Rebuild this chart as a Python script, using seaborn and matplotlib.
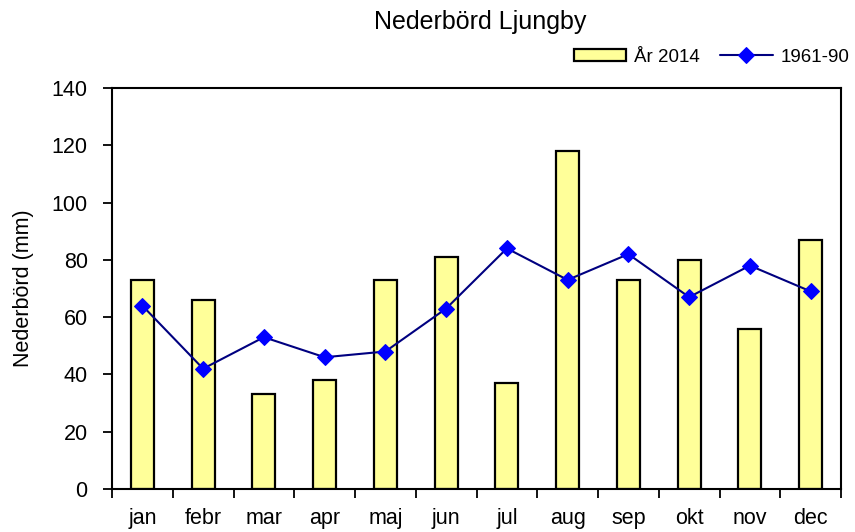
import matplotlib
matplotlib.use("Agg")
import matplotlib.pyplot as plt
import seaborn as sns
import pandas as pd
import numpy as np

months = ["jan", "febr", "mar", "apr", "maj", "jun", "jul", "aug", "sep", "okt", "nov", "dec"]
rain_2014 = [73, 66, 33, 38, 73, 81, 37, 118, 73, 80, 56, 87]
normal_1961_90 = [64, 42, 53, 46, 48, 63, 84, 73, 82, 67, 78, 69]
y_ticks = [0, 20, 40, 60, 80, 100, 120, 140]

sns.set_style("white")
plt.rcParams["font.family"] = ["Liberation Sans", "DejaVu Sans"]
for k in ["text.color", "axes.labelcolor", "xtick.color", "ytick.color"]:
    plt.rcParams[k] = "black"

df = pd.DataFrame({"month": months, "y2014": rain_2014, "norm": normal_1961_90})

fig = plt.figure(figsize=(8.55, 5.32), dpi=100)
ax = fig.add_axes([112/855, 1-489/532, (841-112)/855, (489-88)/532])

sns.barplot(data=df, x="month", y="y2014", ax=ax, color="#FFFF99",
            edgecolor="black", linewidth=1.6, width=0.38, label="År 2014",
            saturation=1)
pos = np.arange(len(months))
sns.lineplot(x=pos, y=normal_1961_90, ax=ax, color="#000080", linewidth=1.5,
             marker="D", markersize=8.5, markerfacecolor="#0000FF",
             markeredgecolor="#0000FF", label="1961-90", legend=False)

ax.set_xlim(-0.5, len(months) - 0.5)
ax.set_ylim(0, 140)
ax.set_yticks(y_ticks)
ax.set_xticks(pos)
ax.set_xticklabels(months)
ax.set_xticks(np.arange(-0.5, len(months), 1.0), minor=True)
ax.tick_params(axis="x", which="major", length=0, pad=14, labelsize=15.5)
ax.tick_params(axis="x", which="minor", length=6.5, width=1.3, direction="out", bottom=True)
ax.tick_params(axis="y", length=6.5, width=1.3, direction="out", left=True, labelsize=15.5, pad=11)
ax.set_xlabel("")
ax.set_ylabel("Nederbörd (mm)", fontsize=15.5)
ax.yaxis.set_label_coords((34-112)/729, 0.5)
for side in ["left", "bottom", "top", "right"]:
    ax.spines[side].set_visible(True)
    ax.spines[side].set_color("black")
    ax.spines[side].set_linewidth(1.5)

fig.text(480/855, 1-22/532, "Nederbörd Ljungby", ha="center", va="center", fontsize=18)

handles, labels = ax.get_legend_handles_labels()
order = [labels.index("År 2014"), labels.index("1961-90")]
if ax.get_legend() is not None:
    ax.get_legend().remove()
fig.legend([handles[i] for i in order], [labels[i] for i in order],
           loc="center right", bbox_to_anchor=(849/855, 1-57/532),
           ncol=2, frameon=False, fontsize=13.5, handlelength=2.8, handletextpad=0.4,
           columnspacing=1.1, handleheight=0.6, borderpad=0, borderaxespad=0)

fig.savefig("out.png", dpi=100)
